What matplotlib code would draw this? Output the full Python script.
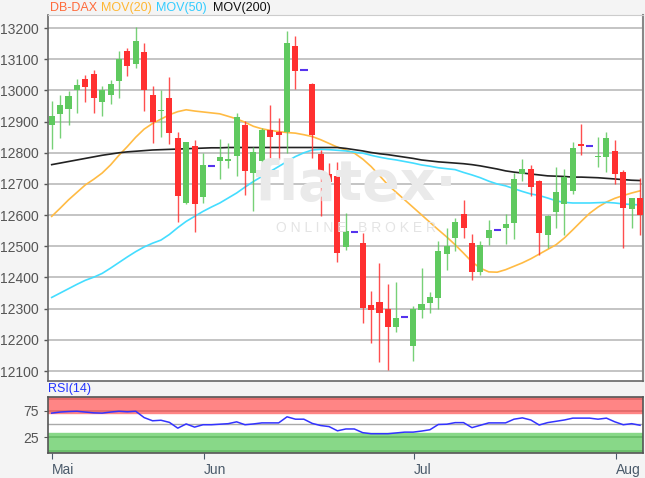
#!/usr/bin/env python3

import numpy as np
from matplotlib import pyplot as plt

# daily candles (index = trading day slot), flat rows are days without trading
opens = [12890, 12924, 12942, 13002, 13037, 13052, 12963, 12986, 13029, 13125,
         13085, 13122, 12984, 12933, 12975, 12849, 12639, 12822, 12657, 12759,
         12775, 12775, 12790, 12890, 12735, 12775, 12874, 12866, 12866, 13144,
         13064, 13020, 12796, 12732, 12727, 12497, 12547, 12512, 12312, 12321,
         12298, 12240, 12272, 12179, 12296, 12318, 12334, 12475, 12526, 12604,
         12512, 12419, 12528, 12553, 12560, 12574, 12732, 12749, 12708, 12535,
         12610, 12636, 12679, 12828, 12822, 12786, 12786, 12806, 12740, 12619,
         12655]
highs = [12965, 12984, 12997, 13037, 13050, 13066, 13015, 13033, 13127, 13136,
         13205, 13152, 13013, 13002, 13042, 12866, 12836, 12842, 12799, 12759,
         12845, 12833, 12927, 12903, 12817, 12880, 12954, 12911, 13191, 13176,
         13064, 13024, 12810, 12767, 12772, 12606, 12547, 12542, 12357, 12446,
         12379, 12387, 12272, 12310, 12432, 12353, 12518, 12558, 12590, 12647,
         12539, 12516, 12585, 12553, 12603, 12735, 12781, 12762, 12713, 12601,
         12756, 12748, 12834, 12893, 12822, 12852, 12866, 12842, 12745, 12655,
         12719]
lows = [12813, 12849, 12890, 12927, 12963, 12927, 12917, 12956, 12975, 13045,
        13072, 12933, 12831, 12852, 12828, 12578, 12635, 12545, 12639, 12759,
        12716, 12751, 12727, 12665, 12612, 12748, 12783, 12781, 12799, 13005,
        13064, 12783, 12596, 12671, 12449, 12489, 12547, 12253, 12189, 12128,
        12104, 12225, 12272, 12133, 12270, 12286, 12300, 12425, 12486, 12528,
        12393, 12409, 12503, 12553, 12507, 12524, 12710, 12660, 12473, 12494,
        12558, 12537, 12667, 12794, 12822, 12753, 12740, 12699, 12494, 12558,
        12537]
closes = [12919, 12954, 12981, 13016, 13010, 12975, 13001, 13020, 13101, 13077,
          13159, 13002, 12898, 12938, 12863, 12663, 12834, 12636, 12762, 12759,
          12786, 12781, 12914, 12742, 12802, 12872, 12850, 12856, 13152, 13063,
          13064, 12856, 12724, 12706, 12480, 12548, 12547, 12302, 12296, 12286,
          12240, 12270, 12272, 12300, 12314, 12336, 12486, 12500, 12578, 12560,
          12417, 12505, 12553, 12553, 12571, 12716, 12749, 12689, 12542, 12598,
          12673, 12722, 12815, 12822, 12822, 12788, 12849, 12733, 12622, 12655,
          12601]

mov20 = [12596, 12622, 12649, 12673, 12697, 12715, 12735, 12761, 12792, 12820,
         12850, 12876, 12894, 12908, 12922, 12932, 12938, 12934, 12931, 12928,
         12925, 12917, 12909, 12898, 12885, 12877, 12872, 12868, 12865, 12863,
         12858, 12852, 12842, 12830, 12818, 12809, 12799, 12780, 12756, 12727,
         12697, 12673, 12649, 12625, 12601, 12577, 12553, 12530, 12505, 12478,
         12450, 12430, 12418, 12417, 12425, 12436, 12447, 12460, 12475, 12490,
         12505, 12527, 12553, 12580, 12606, 12626, 12642, 12654, 12663, 12671,
         12678]
mov50 = [12336, 12350, 12364, 12378, 12391, 12401, 12413, 12430, 12448, 12466,
         12483, 12498, 12510, 12520, 12538, 12560, 12580, 12596, 12612, 12626,
         12639, 12655, 12671, 12690, 12708, 12724, 12740, 12756, 12772, 12788,
         12800, 12809, 12811, 12810, 12808, 12806, 12802, 12799, 12792, 12786,
         12781, 12777, 12772, 12767, 12761, 12757, 12752, 12749, 12746, 12737,
         12729, 12720, 12709, 12700, 12694, 12685, 12676, 12668, 12663, 12655,
         12646, 12641, 12639, 12639, 12639, 12640, 12641, 12639, 12636, 12634,
         12633]
mov200 = [12762, 12767, 12772, 12777, 12782, 12787, 12792, 12796, 12800, 12803,
          12805, 12807, 12809, 12810, 12811, 12812, 12813, 12814, 12815, 12816,
          12816, 12817, 12817, 12817, 12817, 12817, 12817, 12817, 12817, 12817,
          12817, 12817, 12817, 12817, 12817, 12814, 12810, 12806, 12801, 12797,
          12794, 12790, 12786, 12782, 12777, 12774, 12771, 12769, 12767, 12765,
          12762, 12758, 12753, 12748, 12742, 12738, 12735, 12732, 12729, 12726,
          12725, 12724, 12722, 12722, 12721, 12720, 12718, 12716, 12714, 12712,
          12711]
rsi = [70.5, 72.5, 73.5, 74, 72.5, 71, 70.5, 72.5, 74, 73,
       74, 62, 56, 57, 53, 42, 50, 44, 48.5, 48.5,
       49.5, 50.5, 54, 48.5, 50, 52, 52, 52, 63.5, 59,
       59, 51, 47, 45, 37, 40.5, 40.5, 33.5, 31.5, 31.5,
       31.5, 33, 34.5, 34.5, 36.5, 39, 49, 49.5, 52.5, 52.5,
       43, 47.5, 52, 52, 52, 59, 61.5, 57.5, 48, 52.5,
       55, 57.5, 61, 61, 61, 59, 61, 54, 48.5, 50.5,
       47.5]

month_pos = [0.0, 18.1, 43.1, 67.1]
month_labels = ['Mai', 'Jun', 'Jul', 'Aug']
price_ticks = list(range(12100, 13201, 100))


if __name__ == '__main__':
  plt.rcParams['font.family'] = ['Liberation Sans', 'DejaVu Sans']
  W, H = 645, 478
  fig = plt.figure(figsize=(W/100, H/100), dpi=100, facecolor='#f4f4f4')

  def px_axes(x0, y0, x1, y1):
    return fig.add_axes([x0/W, 1 - y1/H, (x1 - x0)/W, (y1 - y0)/H])

  green = '#5fc95f'
  red = '#ff3030'
  x = np.arange(len(opens))
  xlim = (-0.44, 70.35)

  # main price panel
  ax = px_axes(48, 15, 643, 381)
  ax.set_facecolor('white')
  ax.set_xlim(*xlim)
  ax.set_ylim(12068, 13242)
  ax.set_yticks(price_ticks)
  ax.set_yticklabels([str(t) for t in price_ticks])
  ax.tick_params(axis='y', colors='#555555', labelsize=10, length=3, width=1)
  ax.tick_params(axis='x', bottom=False, labelbottom=False)
  ax.grid(axis='y', color='#b4b4b4', linewidth=1.1)
  ax.set_axisbelow(True)
  for s in ['left', 'bottom']:
    ax.spines[s].set_color('#666666')
    ax.spines[s].set_linewidth(1.2)
  ax.spines['top'].set_color('#cccccc')
  ax.spines['right'].set_color('#888888')
  ax.spines['right'].set_linewidth(1.5)

  # watermark (pixel positions from top-left)
  fig.text(356/W, 1 - 185/H, 'flatex\u00b7', fontsize=40, fontweight='bold',
           color='#eaeaea', ha='center', va='center', zorder=0.5,
           family='DejaVu Sans')
  fig.text(356/W, 1 - 228/H, 'O N L I N E   B R O K E R', fontsize=10,
           color='#e4e4e4', ha='center', va='center', zorder=0.5)

  ax.plot(x, mov20, color='#ffbb44', linewidth=1.2, zorder=2)
  ax.plot(x, mov50, color='#44ddff', linewidth=1.2, zorder=2)
  ax.plot(x, mov200, color='#222222', linewidth=1.2, zorder=2)

  for i in x:
    o, h, l, c = opens[i], highs[i], lows[i], closes[i]
    if h == l:
      ax.hlines(o, i - 0.4, i + 0.45, color='#5533ee', linewidth=1.5, zorder=3)
      continue
    col = green if c >= o else red
    ax.vlines(i, l, h, color=col, linewidth=1.0, alpha=0.85, zorder=3)
    body = max(abs(c - o), 3)
    ax.bar(i, body, bottom=min(o, c), width=0.72, color=col, zorder=4,
           linewidth=0)

  fig.text(50/W, 1 - 8/H, 'DB-DAX', color='#ff6a3a', fontsize=9, va='center')
  fig.text(101/W, 1 - 8/H, 'MOV(20)', color='#ffb733', fontsize=9, va='center')
  fig.text(156/W, 1 - 8/H, 'MOV(50)', color='#33ccff', fontsize=9, va='center')
  fig.text(213/W, 1 - 8/H, 'MOV(200)', color='#111111', fontsize=9, va='center')

  # RSI panel
  ar = px_axes(48, 397, 643, 453)
  ar.set_facecolor('white')
  ar.set_xlim(*xlim)
  ar.set_ylim(-5, 101)
  ar.axhspan(71.5, 101, color='#ff8585', zorder=0)
  ar.axhspan(-5, 33, color='#88d888', zorder=0)
  ar.axhline(75, color='#e06868', linewidth=1.2, zorder=1)
  ar.axhline(98, color='#e06868', linewidth=1.2, zorder=1)
  ar.axhline(25, color='#66bb66', linewidth=1.2, zorder=1)
  ar.axhline(-1, color='#66bb66', linewidth=1.2, zorder=1)
  ar.axhline(50, color='#aaaaaa', linewidth=1.0, zorder=1)
  ar.plot(x, rsi, color='#3333ff', linewidth=1.1, zorder=3)
  ar.set_yticks([25, 75])
  ar.set_yticklabels(['25', '75'])
  ar.tick_params(axis='y', colors='#555555', labelsize=10, length=3)
  ar.set_xticks(month_pos)
  ar.set_xticklabels(month_labels, ha='left')
  ar.tick_params(axis='x', colors='#4a5a6a', labelsize=10, length=4, pad=3)
  for s in ar.spines.values():
    s.set_color('#555555')
    s.set_linewidth(1.2)
  fig.text(48/W, 1 - 389/H, 'RSI(14)', color='#2233ff', fontsize=9, va='center')

  plt.savefig('out.png', dpi=100, facecolor=fig.get_facecolor())
